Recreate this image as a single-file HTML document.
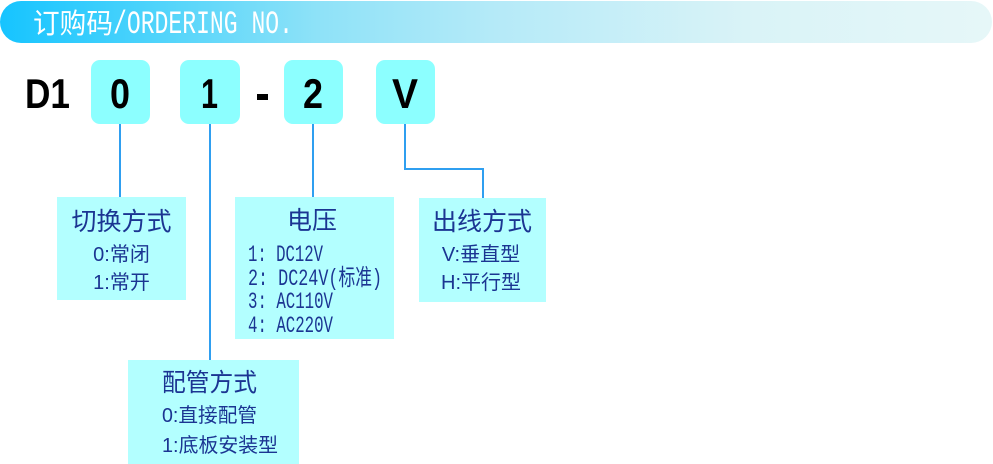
<!DOCTYPE html>
<html><head><meta charset="utf-8"><style>
html,body{margin:0;padding:0;background:#fff;}
svg{display:block;}
</style></head><body>
<svg width="993" height="464" viewBox="0 0 993 464" xmlns="http://www.w3.org/2000/svg">
<defs>
<linearGradient id="hg" x1="0" y1="0" x2="1" y2="0">
<stop offset="0" stop-color="#16c4ff"/>
<stop offset="0.15" stop-color="#4cd3fb"/>
<stop offset="0.32" stop-color="#8ee2f8"/>
<stop offset="0.5" stop-color="#b5eaf8"/>
<stop offset="0.75" stop-color="#d9f3f7"/>
<stop offset="1" stop-color="#e6f7f8"/>
</linearGradient>
</defs>
<rect x="0" y="1" width="992" height="42" rx="21" ry="21" fill="url(#hg)"/>
<text x="33" y="33" font-family="'Liberation Sans','Noto Sans CJK SC',sans-serif" font-size="28" fill="#fff" textLength="80" lengthAdjust="spacingAndGlyphs">订购码</text>
<text x="113" y="33" font-family="'Liberation Mono',monospace" font-size="32" fill="#fff" textLength="180" lengthAdjust="spacingAndGlyphs">/ORDERING NO.</text>

<!-- code row -->
<text x="25" y="108" font-family="'Liberation Sans',sans-serif" font-weight="bold" font-size="42" fill="#000" textLength="45" lengthAdjust="spacingAndGlyphs">D1</text>
<rect x="91" y="60" width="59" height="64" rx="9" fill="#8cffff"/>
<rect x="180" y="60" width="60" height="64" rx="9" fill="#8cffff"/>
<rect x="284" y="60" width="59" height="64" rx="9" fill="#8cffff"/>
<rect x="376" y="60" width="59" height="64" rx="9" fill="#8cffff"/>
<text x="110" y="108" font-family="'Liberation Sans',sans-serif" font-weight="bold" font-size="42" fill="#000" textLength="20" lengthAdjust="spacingAndGlyphs">0</text>
<text x="201" y="108" font-family="'Liberation Sans',sans-serif" font-weight="bold" font-size="42" fill="#000" textLength="17" lengthAdjust="spacingAndGlyphs">1</text>
<rect x="257" y="94" width="11" height="6" fill="#000"/>
<text x="303" y="108" font-family="'Liberation Sans',sans-serif" font-weight="bold" font-size="42" fill="#000" textLength="20" lengthAdjust="spacingAndGlyphs">2</text>
<text x="392" y="108" font-family="'Liberation Sans',sans-serif" font-weight="bold" font-size="42" fill="#000" textLength="26" lengthAdjust="spacingAndGlyphs">V</text>

<!-- connectors -->
<g stroke="#2f9ff0" stroke-width="2" fill="none">
<line x1="120" y1="124" x2="120" y2="198"/>
<line x1="210" y1="124" x2="210" y2="361"/>
<line x1="313" y1="124" x2="313" y2="198"/>
<polyline points="405,124 405,169 483,169 483,199"/>
</g>

<!-- boxes -->
<g fill="#b3ffff">
<rect x="57" y="197" width="129" height="103"/>
<rect x="235" y="197" width="159" height="142"/>
<rect x="419" y="198" width="127" height="104"/>
<rect x="128" y="360" width="171" height="104"/>
</g>

<g font-family="'Liberation Sans','Noto Sans CJK SC',sans-serif" fill="#1b3592">
<!-- 切换方式 -->
<text x="121.5" y="230" font-size="25" text-anchor="middle">切换方式</text>
<text x="121.5" y="261" font-size="20" text-anchor="middle">0:常闭</text>
<text x="121.5" y="289" font-size="20" text-anchor="middle">1:常开</text>
<!-- 电压 -->
<text x="312" y="229" font-size="25" text-anchor="middle">电压</text>
<text x="248" y="261" font-size="23" font-family="'Liberation Mono','Noto Sans CJK SC',monospace" textLength="75" lengthAdjust="spacingAndGlyphs">1: DC12V</text>
<text x="248" y="285" font-size="23" font-family="'Liberation Mono','Noto Sans CJK SC',monospace" textLength="134" lengthAdjust="spacingAndGlyphs">2: DC24V(标准)</text>
<text x="248" y="308" font-size="23" font-family="'Liberation Mono','Noto Sans CJK SC',monospace" textLength="85" lengthAdjust="spacingAndGlyphs">3: AC110V</text>
<text x="248" y="332" font-size="23" font-family="'Liberation Mono','Noto Sans CJK SC',monospace" textLength="85" lengthAdjust="spacingAndGlyphs">4: AC220V</text>
<!-- 出线方式 -->
<text x="482" y="230" font-size="25" text-anchor="middle">出线方式</text>
<text x="481" y="261" font-size="20" text-anchor="middle">V:垂直型</text>
<text x="481" y="289" font-size="20" text-anchor="middle">H:平行型</text>
<!-- 配管方式 -->
<text x="162" y="391" font-size="25" textLength="95" lengthAdjust="spacingAndGlyphs">配管方式</text>
<text x="162" y="422" font-size="20" textLength="95" lengthAdjust="spacingAndGlyphs">0:直接配管</text>
<text x="162" y="452" font-size="20" textLength="116" lengthAdjust="spacingAndGlyphs">1:底板安装型</text>
</g>
</svg>
</body></html>
